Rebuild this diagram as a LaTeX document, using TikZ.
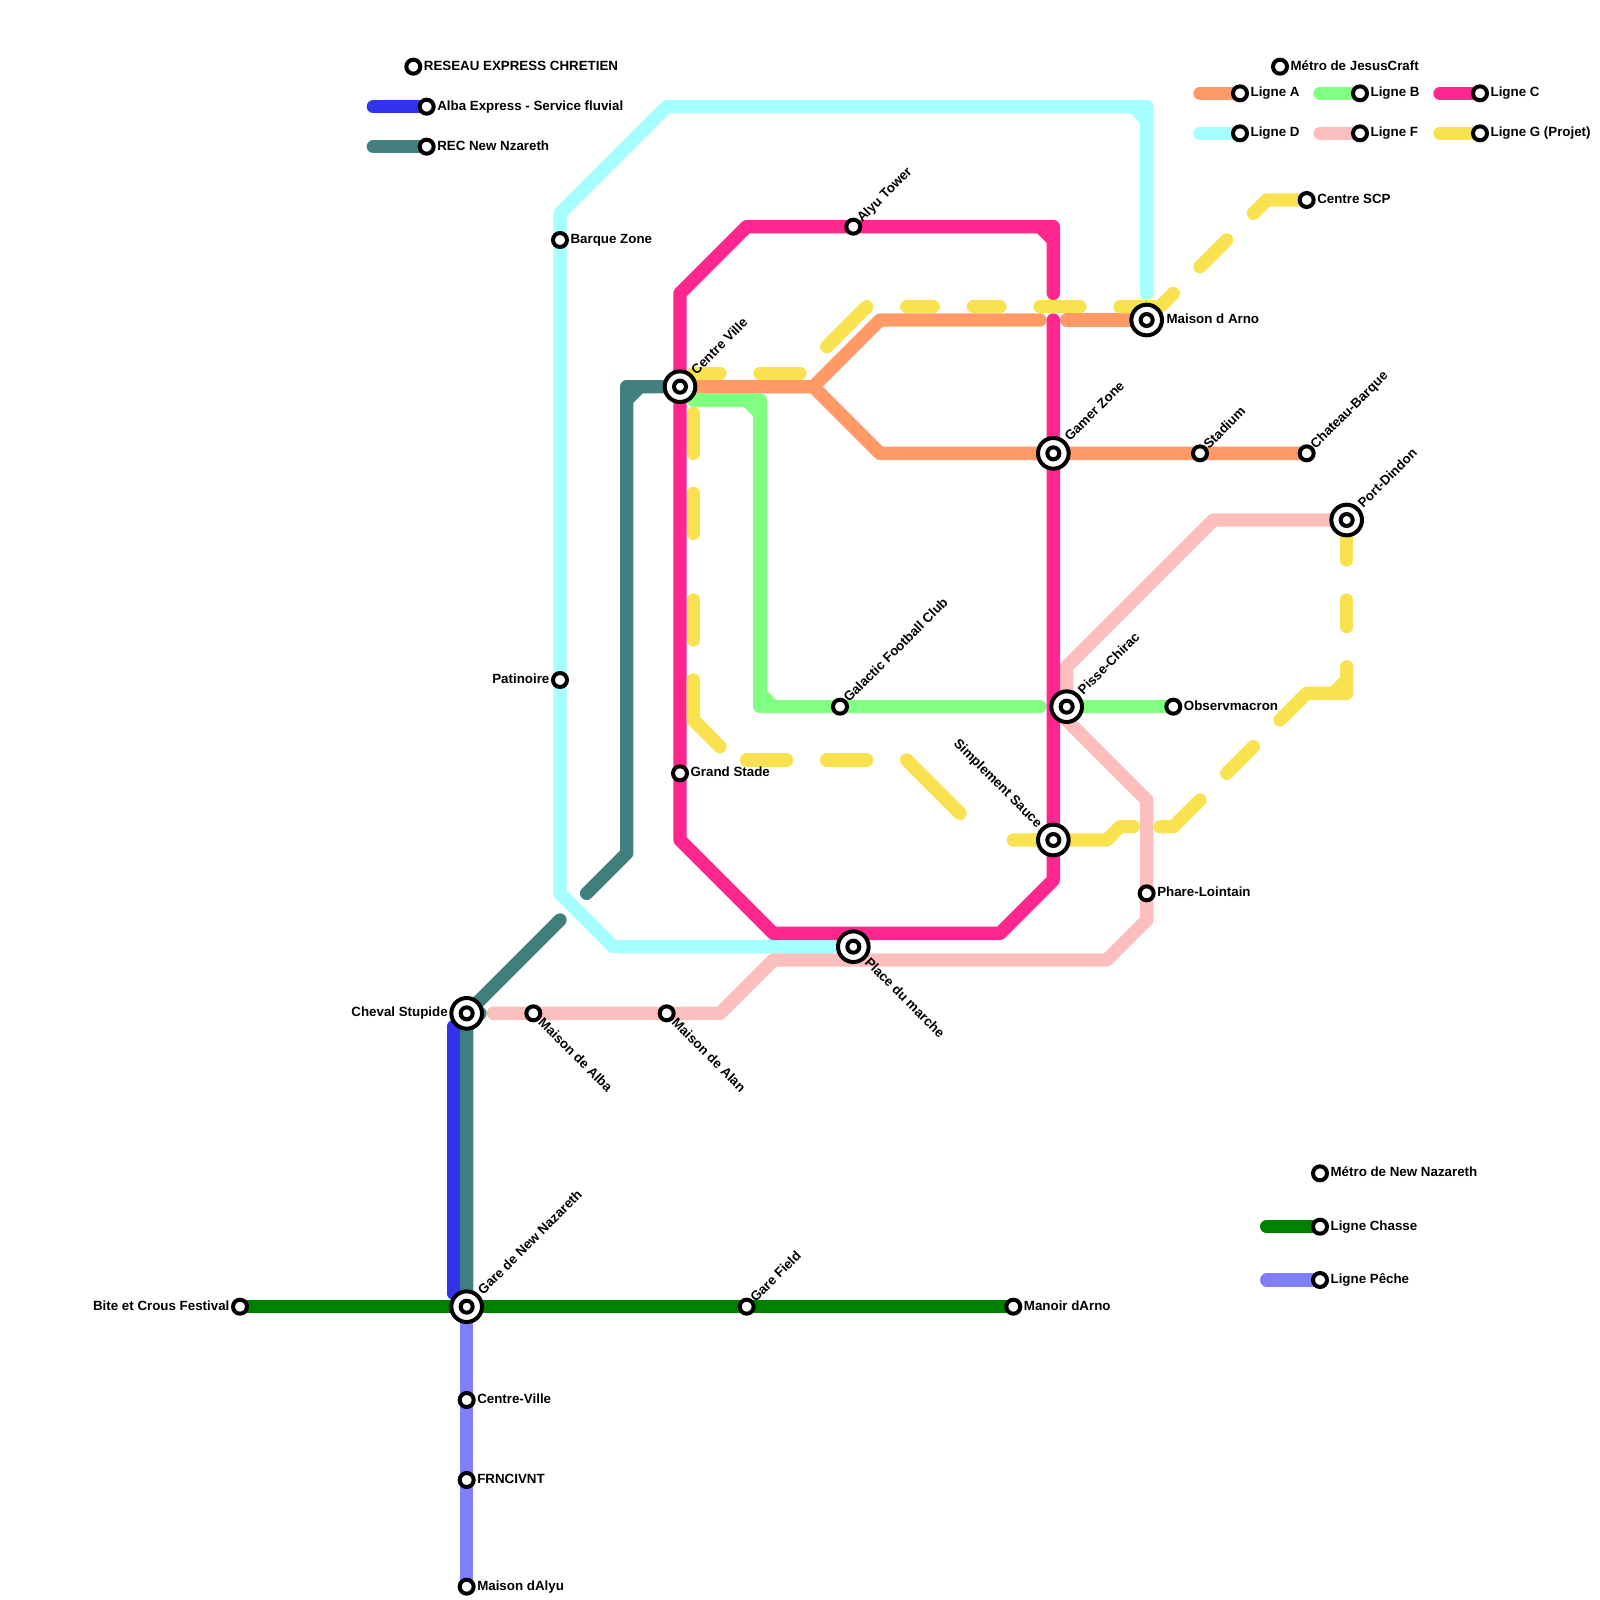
\documentclass[tikz,border=0pt]{standalone}
\usepackage{xcolor}
\usepackage{fontspec}
\setmainfont{Liberation Sans}
\usetikzlibrary{backgrounds}
\definecolor{metroorange}{RGB}{255, 153, 102}
\definecolor{metrogreen}{RGB}{128, 255, 128}
\definecolor{metromagenta}{RGB}{255, 38, 142}
\definecolor{metrocyan}{RGB}{166, 255, 255}
\definecolor{metropink}{RGB}{253, 190, 190}
\definecolor{metroyellow}{RGB}{249, 226, 80}
\definecolor{metroteal}{RGB}{66, 128, 128}
\definecolor{metroblue}{RGB}{51, 51, 238}
\definecolor{metrochasse}{RGB}{0, 128, 0}
\definecolor{metropeche}{RGB}{128, 128, 255}
\begin{document}
\begin{tikzpicture}[
    x=10pt, y=-10pt,
    label distance=1pt,
    stn/.style={circle, draw=black, fill=white, line width=3pt, minimum size=10.5pt, inner sep=0pt},
    hub/.style={circle, draw=black, fill=white, line width=3pt, minimum size=23pt, inner sep=0pt, label distance=2pt,
      path picture={\draw[black, line width=3pt] (path picture bounding box.center) circle (4.5pt);}},
    lbl/.style={font=\fontsize{10}{12}\bfseries, inner sep=0pt, text height=5pt, text depth=0pt},
    lblup/.style={lbl, rotate=45, anchor=west, xshift=1pt, yshift=-1pt},
    lblupsm/.style={lblup, xshift=-1.8pt},
    lbldown/.style={lbl, rotate=-45, anchor=west, xshift=0.7pt},
    lbldownsm/.style={lbldown, xshift=-0.5pt},
    lblback/.style={lbl, rotate=-45, anchor=east, xshift=-1pt, yshift=-0.65pt},
    metro/.style={line width=10pt, line cap=round, line join=round}
  ]
  \useasboundingbox (0,0) rectangle (120,120);

  % stations
  \node[stn, label={[lbl]right:RESEAU EXPRESS CHRETIEN}] (reseau) at (31,5) {};
  \node[stn, label={[lbl]right:Alba Express - Service fluvial}] (albaexpress) at (32,8) {};
  \node[stn, label={[lbl]right:REC New Nzareth}] (recnew) at (32,11) {};
  \node[stn, label={[lbl]right:Métro de JesusCraft}] (jesuscraft) at (96,5) {};
  \node[stn, label={[lbl]right:Ligne A}] (lignea) at (93,7) {};
  \node[stn, label={[lbl]right:Ligne B}] (ligneb) at (102,7) {};
  \node[stn, label={[lbl]right:Ligne C}] (lignec) at (111,7) {};
  \node[stn, label={[lbl]right:Ligne D}] (ligned) at (93,10) {};
  \node[stn, label={[lbl]right:Ligne F}] (lignef) at (102,10) {};
  \node[stn, label={[lbl]right:Ligne G (Projet)}] (ligneg) at (111,10) {};
  \node[stn, label={[lbl]right:Métro de New Nazareth}] (metronew) at (99,88) {};
  \node[stn, label={[lbl]right:Ligne Chasse}] (lignechasse) at (99,92) {};
  \node[stn, label={[lbl]right:Ligne Pêche}] (lignepeche) at (99,96) {};

  \node[stn, label={[lbl]right:Centre SCP}] (centrescp) at (98,15) {};
  \node[stn, label={[lbl]right:Barque Zone}] (barque) at (42,18) {};
  \node[stn, label={[lbl]left:Patinoire}] (patinoire) at (42,51) {};
  \node[stn, label={[lbl]right:Grand Stade}] (grandstade) at (51,58) {};
  \node[stn, label={[lblupsm]45:Alyu Tower}] (alyutower) at (64,17) {};
  \node[stn, label={[lblupsm]45:Galactic Football Club}] (galactic) at (63,53) {};
  \node[stn, label={[lblupsm]45:Stadium}] (stadium) at (90,34) {};
  \node[stn, label={[lblupsm]45:Chateau-Barque}] (chateau) at (98,34) {};
  \node[stn, label={[lbl]right:Observmacron}] (observ) at (88,53) {};
  \node[stn, label={[lbl]right:Phare-Lointain}] (phare) at (86,67) {};
  \node[stn, label={[lbldownsm]-45:Maison de Alba}] (malba) at (40,76) {};
  \node[stn, label={[lbldownsm]-45:Maison de Alan}] (malan) at (50,76) {};
  \node[stn, label={[lbl]left:Bite et Crous Festival}] (bite) at (18,98) {};
  \node[stn, label={[lblupsm]45:Gare Field}] (garefield) at (56,98) {};
  \node[stn, label={[lbl]right:Manoir dArno}] (manoir) at (76,98) {};
  \node[stn, label={[lbl]right:Centre-Ville}] (centrev) at (35,105) {};
  \node[stn, label={[lbl]right:FRNCIVNT}] (frncivnt) at (35,111) {};
  \node[stn, label={[lbl]right:Maison dAlyu}] (malyu) at (35,119) {};

  \node[hub, label={[lblup]45:Centre Ville}] (centreville) at (51,29) {};
  \node[hub, label={[lblup]45:Gamer Zone}] (gamer) at (79,34) {};
  \node[hub, label={[lbl, xshift=0.7pt]right:Maison d Arno}] (marno) at (86,24) {};
  \node[hub, label={[lblup]45:Port-Dindon}] (portdindon) at (101,39) {};
  \node[hub, label={[lblup]45:Pisse-Chirac}] (pisse) at (80,53) {};
  \node[hub, label={[lblback]135:Simplement Sauce}] (sauce) at (79,63) {};
  \node[hub, label={[lbldown]-45:Place du marche}] (marche) at (64,71) {};
  \node[hub, label={[lbl]left:Cheval Stupide}] (cheval) at (35,76) {};
  \node[hub, label={[lblup]45:Gare de New Nazareth}] (garenew) at (35,98) {};

  % free ends of the lines
  \coordinate (keya) at (90,7); \coordinate (keyb) at (99,7); \coordinate (keyc) at (108,7);
  \coordinate (keyd) at (90,10); \coordinate (keyf) at (99,10); \coordinate (keyg) at (108,10);
  \coordinate (keyalba) at (28,8); \coordinate (keyrec) at (28,11);
  \coordinate (keychasse) at (95,92); \coordinate (keypeche) at (95,96);
  \coordinate (aend) at (78,24); \coordinate (astart) at (80,24); \coordinate (afork) at (61,29);
  \coordinate (bend) at (78,53); \coordinate (bstart) at (52,30);
  \coordinate (ctop) at (79,22); \coordinate (cbottom) at (79,24);
  \coordinate (dend) at (86,22);
  \coordinate (fstart) at (37,76);
  \coordinate (tealone) at (42,69); \coordinate (tealtwo) at (44,67);
  \coordinate (albatop) at (34,77); \coordinate (albabottom) at (34,97);
  \coordinate (ga) at (94,16); \coordinate (gb) at (92,18); \coordinate (gc) at (90,20);
  \coordinate (gd) at (88,22); \coordinate (ge) at (84,23); \coordinate (gf) at (81,23);
  \coordinate (gg) at (78,23); \coordinate (gh) at (75,23); \coordinate (gi) at (73,23);
  \coordinate (gj) at (70,23); \coordinate (gk) at (68,23); \coordinate (gl) at (65,23);
  \coordinate (gm) at (62,26); \coordinate (gn) at (60,28); \coordinate (go) at (57,28);
  \coordinate (gp) at (54,28); \coordinate (gq) at (52,28);
  \coordinate (gr) at (52,31); \coordinate (gs) at (52,34); \coordinate (gt) at (52,37);
  \coordinate (gu) at (52,40); \coordinate (gv) at (52,45); \coordinate (gw) at (52,48);
  \coordinate (gx) at (52,51); \coordinate (gy) at (54,56); \coordinate (gz) at (56,57);
  \coordinate (gaa) at (59,57); \coordinate (gab) at (62,57); \coordinate (gac) at (65,57);
  \coordinate (gad) at (68,57); \coordinate (gae) at (72,61); \coordinate (gaf) at (76,63);
  \coordinate (gag) at (85,62); \coordinate (gah) at (87,62); \coordinate (gai) at (90,60);
  \coordinate (gaj) at (92,58); \coordinate (gak) at (94,56); \coordinate (gal) at (96,54);
  \coordinate (gam) at (101,50); \coordinate (gan) at (101,47); \coordinate (gao) at (101,45);
  \coordinate (gap) at (101,42);

  % lines, under the stations
  \begin{scope}[on background layer]
    \draw[metro, metroblue] (keyalba) -- (albaexpress.center);
    \draw[metro, metroblue] (albatop) -- (albabottom);
    \draw[metro, metroteal] (keyrec) -- (recnew.center);
    \draw[metro, metroteal] (garenew.center) -- (cheval.center) -- (tealone);
    \draw[metro, metroteal] (35,77) -- (36,76);
    \draw[metro, metroteal] (tealtwo) -- (47,64) -- (47,29) -- (centreville.center);
    \draw[metro, metroteal] (47,30) -- (48,29);
    \draw[metro, metrochasse] (keychasse) -- (lignechasse.center);
    \draw[metro, metrochasse] (bite.center) -- (manoir.center);
    \draw[metro, metropeche] (keypeche) -- (lignepeche.center);
    \draw[metro, metropeche] (garenew.center) -- (malyu.center);

    \draw[metro, metrocyan] (keyd) -- (ligned.center);
    \draw[metro, metrocyan] (dend) -- (86,8) -- (50,8) -- (42,16) -- (42,67) -- (46,71) -- (marche.center);
    \draw[metro, metrocyan] (85,8) -- (86,9);
    \draw[metro, metropink] (keyf) -- (lignef.center);
    \draw[metro, metropink] (fstart) -- (54,76) -- (58,72) -- (83,72) -- (86,69) -- (86,60) -- (80,54) -- (pisse.center) -- (80,50) -- (91,39) -- (portdindon.center);
    \draw[metro, metroorange] (keya) -- (lignea.center);
    \draw[metro, metroorange] (centreville.center) -- (afork) -- (66,24) -- (aend);
    \draw[metro, metroorange] (afork) -- (66,34) -- (chateau.center);
    \draw[metro, metroorange] (astart) -- (marno.center);
    \draw[metro, metrogreen] (keyb) -- (ligneb.center);
    \draw[metro, metrogreen] (bstart) -- (57,30) -- (57,53) -- (bend);
    \draw[metro, metrogreen] (56,30) -- (57,31);
    \draw[metro, metrogreen] (57,52) -- (58,53);
    \draw[metro, metrogreen] (pisse.center) -- (observ.center);
    \draw[metro, metromagenta] (keyc) -- (lignec.center);
    \draw[metro, metromagenta] (ctop) -- (79,17) -- (56,17) -- (51,22) -- (51,63) -- (58,70) -- (75,70) -- (79,66) -- (cbottom);
    \draw[metro, metromagenta] (78,17) -- (79,18);

    \draw[metro, metroyellow] (keyg) -- (ligneg.center);
    \draw[metro, metroyellow] (centrescp.center) -- (95,15) -- (ga);
    \draw[metro, metroyellow] (gb) -- (gc);
    \draw[metro, metroyellow] (gd) -- (87,23) -- (ge);
    \draw[metro, metroyellow] (gf) -- (gg);
    \draw[metro, metroyellow] (gh) -- (gi);
    \draw[metro, metroyellow] (gj) -- (gk);
    \draw[metro, metroyellow] (gl) -- (gm);
    \draw[metro, metroyellow] (gn) -- (go);
    \draw[metro, metroyellow] (gp) -- (gq);
    \draw[metro, metroyellow] (gr) -- (gs);
    \draw[metro, metroyellow] (gt) -- (gu);
    \draw[metro, metroyellow] (gv) -- (gw);
    \draw[metro, metroyellow] (gx) -- (52,54) -- (gy);
    \draw[metro, metroyellow] (gz) -- (gaa);
    \draw[metro, metroyellow] (gab) -- (gac);
    \draw[metro, metroyellow] (gad) -- (gae);
    \draw[metro, metroyellow] (gaf) -- (83,63) -- (84,62) -- (gag);
    \draw[metro, metroyellow] (gah) -- (88,62) -- (gai);
    \draw[metro, metroyellow] (gaj) -- (gak);
    \draw[metro, metroyellow] (gal) -- (98,52) -- (101,52) -- (gam);
    \draw[metro, metroyellow] (100,52) -- (101,51);
    \draw[metro, metroyellow] (gan) -- (gao);
    \draw[metro, metroyellow] (gap) -- (portdindon.center);
  \end{scope}
\end{tikzpicture}
\end{document}
